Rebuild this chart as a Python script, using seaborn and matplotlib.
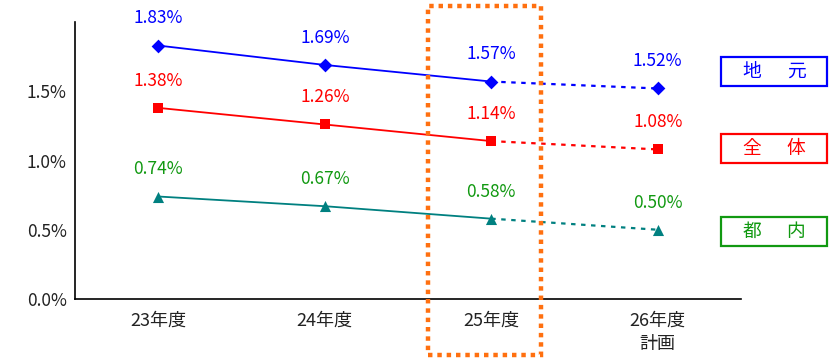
import matplotlib
matplotlib.use("Agg")
import matplotlib.pyplot as plt
from matplotlib.patches import Rectangle
import seaborn as sns
import pandas as pd

# Data
years = ["23年度", "24年度", "25年度", "26年度\n計画"]
series_names = ["地元", "全体", "都内"]
local_rates = [1.83, 1.69, 1.57, 1.52]
overall_rates = [1.38, 1.26, 1.14, 1.08]
tokyo_rates = [0.74, 0.67, 0.58, 0.50]
y_ticks = [0.0, 0.5, 1.0, 1.5]

sns.set_theme(style="white")
plt.rcParams["font.family"] = ["Noto Sans CJK JP", "DejaVu Sans"]

line_colors = ["#0000FF", "#FF0000", "#008080"]
text_colors = ["#0000FF", "#FF0000", "#119911"]
markers = ["D", "s", "^"]
msizes = [7, 7, 8]

rows = []
for name, vals in zip(series_names, [local_rates, overall_rates, tokyo_rates]):
    for i, v in enumerate(vals):
        rows.append({"series": name, "x": i, "rate": v})
df = pd.DataFrame(rows)

W, H = 836, 359
fig = plt.figure(figsize=(W / 100, H / 100), dpi=100)
ax = fig.add_axes([75 / W, 1 - 299 / H, (741 - 75) / W, (299 - 22) / H])

for k, name in enumerate(series_names):
    sub = df[df["series"] == name]
    actual = sub[sub["x"] <= 2]
    plan = sub[sub["x"] >= 2]
    sns.lineplot(data=actual, x="x", y="rate", ax=ax, color=line_colors[k],
                 linewidth=1.3, legend=False)
    sns.lineplot(data=plan, x="x", y="rate", ax=ax, color=line_colors[k],
                 linewidth=1.6, legend=False)
    ax.lines[-1].set_linestyle((0, (2, 2.5)))
    sns.scatterplot(data=sub, x="x", y="rate", ax=ax, color=line_colors[k],
                    marker=markers[k], s=msizes[k] ** 2, edgecolor=line_colors[k],
                    linewidth=0, legend=False, zorder=5)
    for _, r in sub.iterrows():
        ax.annotate(f"{r['rate']:.2f}%", (r["x"], r["rate"]), xytext=(0, 19.5),
                    textcoords="offset points", ha="center", va="center",
                    color=text_colors[k], fontsize=12.5)

ax.set_xlim(-0.5, 3.5)
ax.set_ylim(0, 2.0)
ax.set_yticks(y_ticks)
ax.set_yticklabels([f"{t:.1f}%" for t in y_ticks], fontsize=12.5, color="#222222")
ax.set_xticks(range(len(years)))
ax.set_xticklabels(years, fontsize=13, color="#222222", linespacing=1.4)
ax.set_xticks([0.5, 1.5, 2.5, 3.5], minor=True)
ax.tick_params(axis="x", which="major", length=0, pad=9)
ax.tick_params(axis="x", which="minor", length=5, direction="in", width=1, color="black")
ax.tick_params(axis="y", which="major", length=5, direction="in", width=1, color="black", pad=6)
ax.set_xlabel("")
ax.set_ylabel("")
for side in ["top", "right"]:
    ax.spines[side].set_visible(False)
for side in ["left", "bottom"]:
    ax.spines[side].set_color("black")
    ax.spines[side].set_linewidth(1.2)

# Series name boxes on the right
box_top = [57, 134, 217]
for k, (name, top) in enumerate(zip(series_names, box_top)):
    col = text_colors[k] if k == 2 else line_colors[k]
    box = Rectangle((721 / W, 1 - (top + 29) / H), 106 / W, 29 / H,
                    transform=fig.transFigure, facecolor="white", edgecolor=col,
                    linewidth=1.6, zorder=5)
    fig.patches.append(box)
    yc = 1 - (top + 14.5) / H
    for ch, xc in zip(name, [752, 796]):
        fig.text(xc / W, yc, ch, ha="center", va="center", color=col,
                 fontsize=13.5, zorder=6)

# Highlight frame around the current year
frame = Rectangle((428 / W, 1 - 355 / H), (541 - 428) / W, (355 - 6) / H,
                  transform=fig.transFigure, fill=False, edgecolor="#FF7010",
                  linewidth=3.2, linestyle=(0, (1, 1.1)), clip_on=False, zorder=10)
fig.patches.append(frame)

fig.savefig("out.png", dpi=100, facecolor="white")
